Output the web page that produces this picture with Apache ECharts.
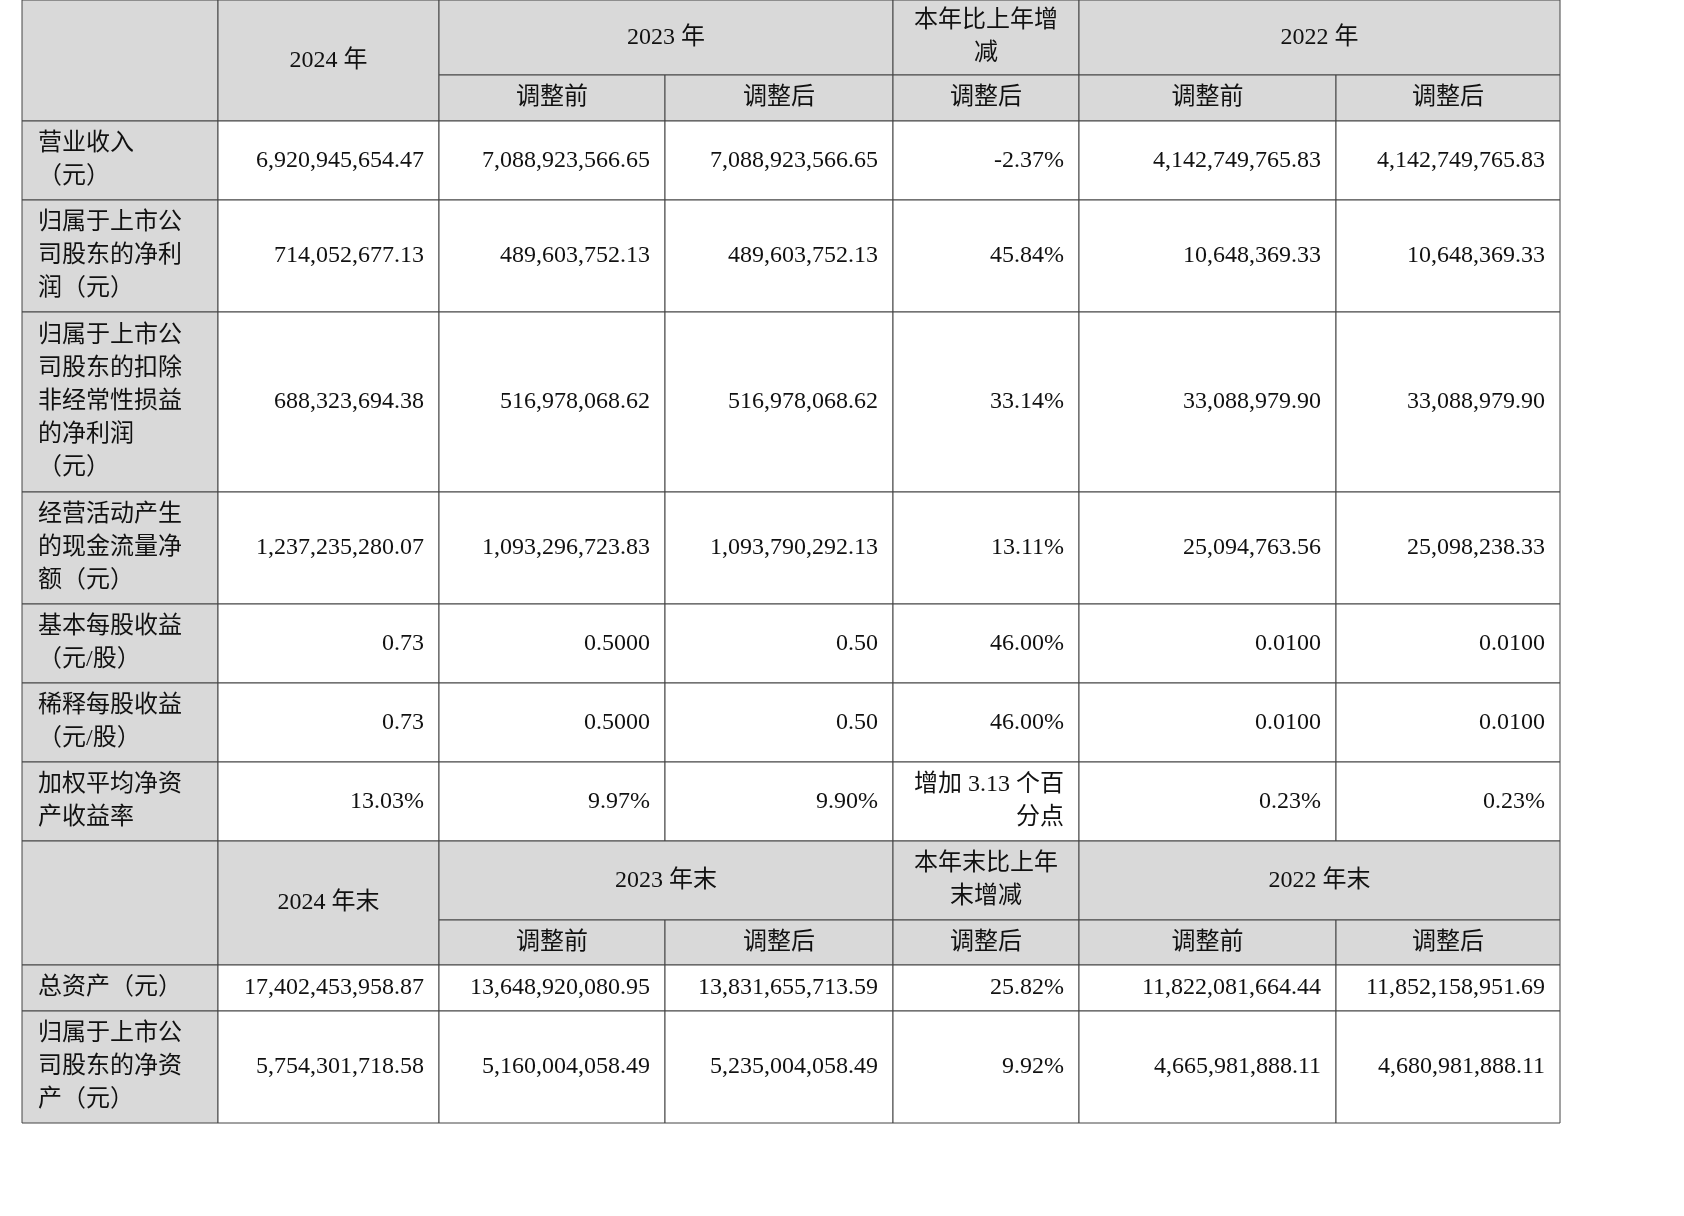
<!DOCTYPE html>
<html><head><meta charset="utf-8">
<script src="https://cdn.jsdelivr.net/npm/echarts@6/dist/echarts.min.js"></script>
<style>html,body{margin:0;background:#fff}#c{width:1684px;height:1216px}</style>
</head><body><div id="c"></div>
<script>
const years1 = ["2024 年","2023 年","本年比上年增\n减","2022 年"];
const years2 = ["2024 年末","2023 年末","本年末比上年\n末增减","2022 年末"];
const subHeads = ["调整前","调整后","调整后","调整前","调整后"];
const labels1 = ["营业收入\n（元）","归属于上市公\n司股东的净利\n润（元）","归属于上市公\n司股东的扣除\n非经常性损益\n的净利润\n（元）","经营活动产生\n的现金流量净\n额（元）","基本每股收益\n（元/股）","稀释每股收益\n（元/股）","加权平均净资\n产收益率"];
const values1 = [
 ["6,920,945,654.47","7,088,923,566.65","7,088,923,566.65","-2.37%","4,142,749,765.83","4,142,749,765.83"],
 ["714,052,677.13","489,603,752.13","489,603,752.13","45.84%","10,648,369.33","10,648,369.33"],
 ["688,323,694.38","516,978,068.62","516,978,068.62","33.14%","33,088,979.90","33,088,979.90"],
 ["1,237,235,280.07","1,093,296,723.83","1,093,790,292.13","13.11%","25,094,763.56","25,098,238.33"],
 ["0.73","0.5000","0.50","46.00%","0.0100","0.0100"],
 ["0.73","0.5000","0.50","46.00%","0.0100","0.0100"],
 ["13.03%","9.97%","9.90%","增加 3.13 个百\n分点","0.23%","0.23%"]
];
const labels2 = ["总资产（元）","归属于上市公\n司股东的净资\n产（元）"];
const values2 = [
 ["17,402,453,958.87","13,648,920,080.95","13,831,655,713.59","25.82%","11,822,081,664.44","11,852,158,951.69"],
 ["5,754,301,718.58","5,160,004,058.49","5,235,004,058.49","9.92%","4,665,981,888.11","4,680,981,888.11"]
];

const X = [22,218,439,665,893,1079,1336,1560];
const GRAY = '#d9d9d9', LINE = '#444';
const FONT = '"Liberation Serif","Noto Sans CJK SC",serif';
const g = [];
function cell(x0,y0,x1,y1,fill,text,align){
  g.push({type:'rect',shape:{x:x0,y:y0,width:x1-x0,height:y1-y0},style:{fill:fill,stroke:LINE,lineWidth:1}});
  if(text!==undefined && text!==''){
    let tx = align==='left'? x0+16 : align==='right'? x1-15 : (x0+x1)/2;
    g.push({type:'text',x:tx,y:(y0+y1)/2,style:{text:text,font:'24px '+FONT,fill:'#111',align:align||'center',verticalAlign:'middle',lineHeight:33}});
  }
}
function header(y0,ym,y1,heads){
  cell(X[0],y0,X[1],y1,GRAY,'');
  cell(X[1],y0,X[2],y1,GRAY,heads[0]);
  cell(X[2],y0,X[4],ym,GRAY,heads[1]);
  cell(X[4],y0,X[5],ym,GRAY,heads[2]);
  cell(X[5],y0,X[7],ym,GRAY,heads[3]);
  subHeads.forEach((s,i)=>cell(X[i+2],ym,X[i+3],y1,GRAY,s));
}
function body(yb,labels,values){
  for(let r=0;r<labels.length;r++){
    cell(X[0],yb[r],X[1],yb[r+1],GRAY,labels[r],'left');
    values[r].forEach((v,i)=>cell(X[i+1],yb[r],X[i+2],yb[r+1],'#fff',v,'right'));
  }
}
header(0,75,121,years1);
body([121,200,312,492,604,683,762,841],labels1,values1);
header(841,920,965,years2);
body([965,1011,1123],labels2,values2);

const chart = echarts.init(document.getElementById('c'));
chart.setOption({animation:false,graphic:{elements:g}});
</script></body></html>
